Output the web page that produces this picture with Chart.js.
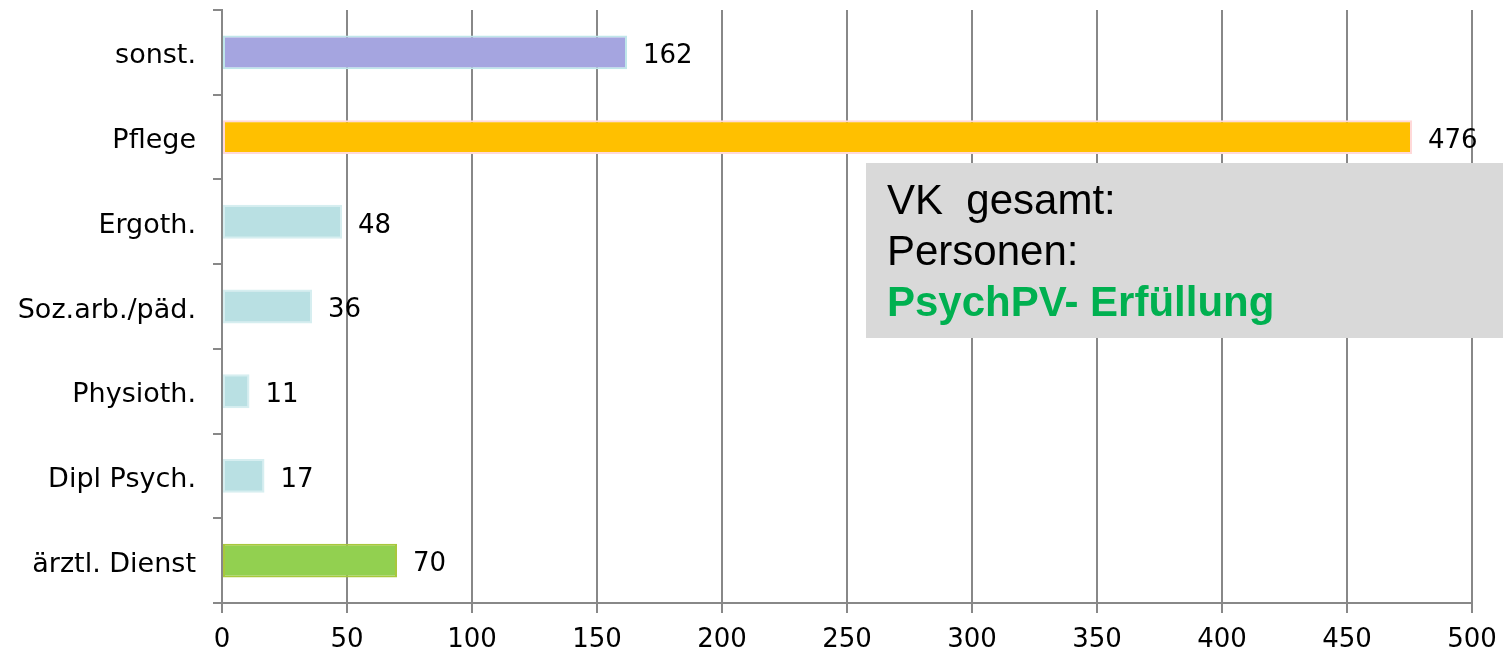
<!DOCTYPE html>
<html>
<head>
<meta charset="utf-8">
<script src="https://cdn.jsdelivr.net/npm/chart.js@4"></script>
<style>
  body { margin: 0; background: #fff; }
</style>
</head>
<body>
<canvas id="barChart" width="1503" height="652"></canvas>
<script>
const categories = ['sonst.', 'Pflege', 'Ergoth.', 'Soz.arb./päd.', 'Physioth.', 'Dipl Psych.', 'ärztl. Dienst'];
const values = [162, 476, 48, 36, 11, 17, 70];
const barColors = ['#a5a5e0', '#ffc000', '#b9e0e3', '#b9e0e3', '#b9e0e3', '#b9e0e3', '#92d050'];
const barBorders = ['#bfe6ea', '#ffd9d9', '#d6eef0', '#d6eef0', '#d6eef0', '#d6eef0', '#a8c83c'];
const xTicks = [0, 50, 100, 150, 200, 250, 300, 350, 400, 450, 500];
const boxLines = ['VK  gesamt:', 'Personen:', 'PsychPV- Erfüllung'];

const gridGray = '#888888';

// value labels at the end of each bar
const valueLabels = {
  id: 'valueLabels',
  afterDatasetsDraw(chart) {
    const ctx = chart.ctx;
    const meta = chart.getDatasetMeta(0);
    ctx.save();
    ctx.font = '26px "DejaVu Sans"';
    ctx.fillStyle = '#000';
    ctx.textAlign = 'left';
    ctx.textBaseline = 'middle';
    meta.data.forEach((bar, i) => {
      ctx.fillText(String(values[i]), bar.x + 16, bar.y + 4);
    });
    ctx.restore();
  }
};

// grey info box in the lower right
const infoBox = {
  id: 'infoBox',
  afterDraw(chart) {
    const ctx = chart.ctx;
    ctx.save();
    ctx.fillStyle = '#d9d9d9';
    ctx.fillRect(866, 163, 637, 175);
    ctx.textAlign = 'left';
    ctx.textBaseline = 'alphabetic';
    ctx.fillStyle = '#000';
    ctx.font = '42px "Liberation Sans"';
    ctx.fillText(boxLines[0], 887, 214);
    ctx.fillText(boxLines[1], 887, 265);
    ctx.fillStyle = '#00b050';
    ctx.font = 'bold 42px "Liberation Sans"';
    ctx.fillText(boxLines[2], 887, 316);
    ctx.restore();
  }
};

new Chart(document.getElementById('barChart').getContext('2d'), {
  type: 'bar',
  data: {
    labels: categories,
    datasets: [{
      data: values,
      backgroundColor: barColors,
      borderColor: barBorders,
      borderWidth: 2,
      borderSkipped: false,
      barPercentage: 0.4,
      categoryPercentage: 1
    }]
  },
  options: {
    indexAxis: 'y',
    responsive: false,
    animation: false,
    layout: { padding: { top: 10, right: 31, left: 0, bottom: 0 } },
    plugins: {
      legend: { display: false },
      tooltip: { enabled: false }
    },
    scales: {
      x: {
        min: 0,
        max: 500,
        afterBuildTicks: (scale) => { scale.ticks = xTicks.map(v => ({ value: v })); },
        afterFit: (scale) => {
          scale.height = 49;
          scale.paddingLeft = 0;
          scale.paddingRight = 0;
        },
        grid: { color: gridGray, lineWidth: 2, tickLength: 10 },
        border: { color: gridGray, width: 2 },
        ticks: {
          color: '#000',
          padding: 12,
          font: { family: 'DejaVu Sans', size: 26 },
          maxRotation: 0
        }
      },
      y: {
        afterFit: (scale) => {
          scale.width = 222;
          scale.paddingTop = 0;
          scale.paddingBottom = 0;
        },
        grid: { drawOnChartArea: false, color: gridGray, lineWidth: 2, tickLength: 9 },
        border: { color: gridGray, width: 2 },
        ticks: {
          color: '#000',
          padding: 17,
          labelOffset: 4,
          font: { family: 'DejaVu Sans', size: 27 }
        }
      }
    }
  },
  plugins: [valueLabels, infoBox]
});
</script>
</body>
</html>
